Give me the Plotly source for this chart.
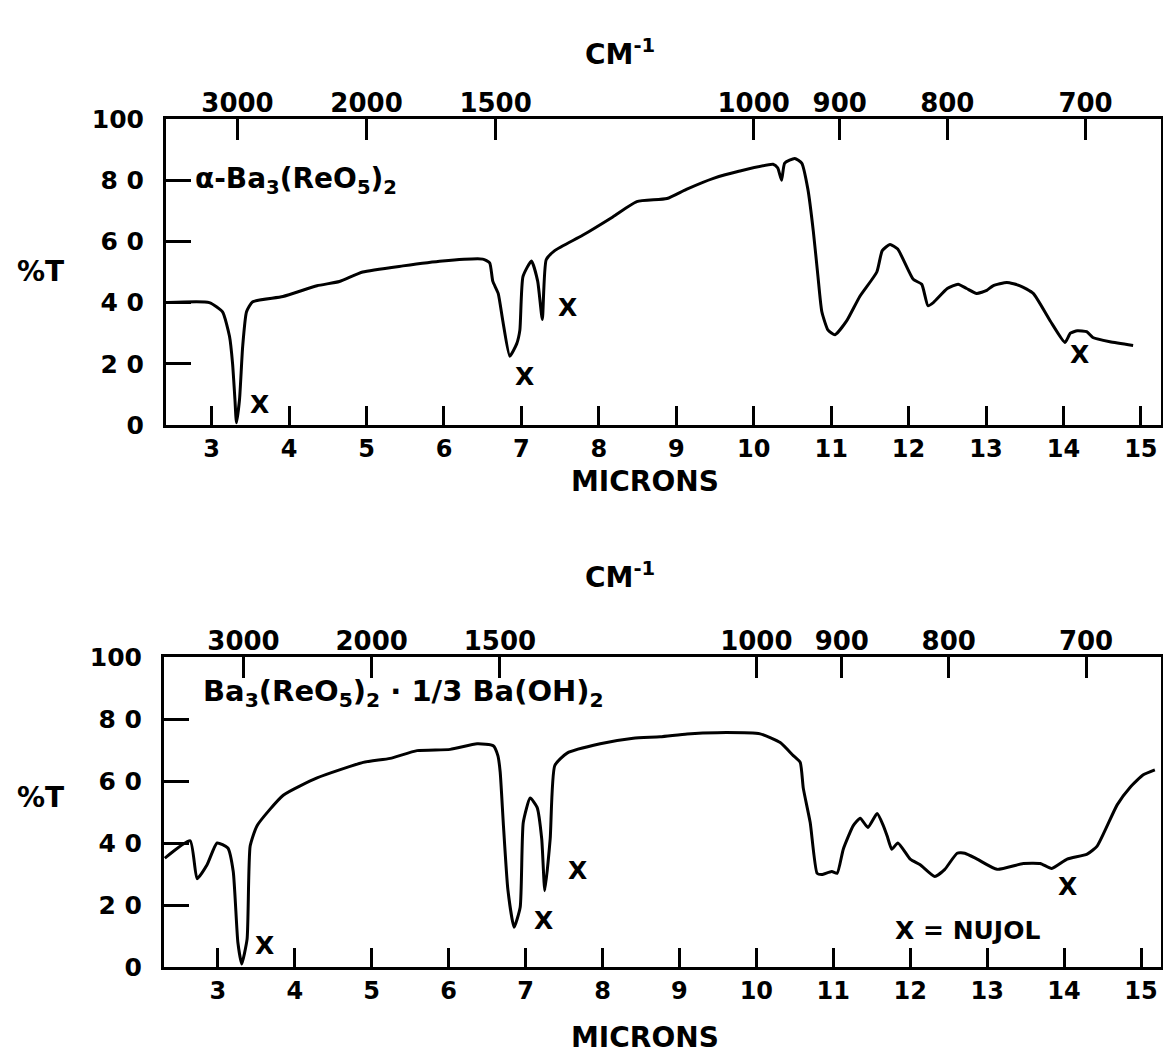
import plotly.graph_objects as go

# ---------------- data ----------------
# Top spectrum: alpha-Ba3(ReO5)2  (microns, %T)
top_um = [2.43, 2.97, 3.14, 3.23, 3.27, 3.30, 3.32, 3.36, 3.40, 3.45, 3.53, 3.92, 4.36, 4.65,
          4.95, 5.47, 5.98, 6.50, 6.59, 6.63, 6.70, 6.76, 6.85, 6.94, 6.98, 7.02, 7.13, 7.21,
          7.27, 7.32, 7.43, 7.79, 8.18, 8.49, 8.88, 9.13, 9.48, 9.82, 10.25, 10.31, 10.36,
          10.40, 10.53, 10.62, 10.70, 10.77, 10.83, 10.88, 10.96, 11.05, 11.20, 11.37, 11.59,
          11.66, 11.76, 11.86, 12.06, 12.17, 12.25, 12.32, 12.50, 12.64, 12.75, 12.88, 13.01,
          13.09, 13.27, 13.44, 13.61, 13.83, 14.02, 14.09, 14.18, 14.30, 14.38, 14.60, 14.90]
top_T = [40.0, 40.0, 37.0, 29.0, 20.0, 8.5, 0.7, 8.5, 25.6, 37.0, 40.3, 42.0, 45.5, 46.9,
         50.0, 52.0, 53.6, 54.2, 53.0, 47.0, 43.0, 34.0, 22.5, 26.6, 31.0, 48.5, 53.6, 47.0,
         34.5, 54.0, 57.0, 62.0, 68.0, 73.0, 74.0, 77.0, 80.6, 83.0, 85.2, 84.0, 80.0,
         85.6, 87.1, 85.6, 77.0, 63.3, 48.5, 37.0, 31.0, 29.5, 34.0, 42.0, 50.0,
         57.0, 59.0, 57.5, 47.6, 46.0, 39.0, 40.0, 44.6, 46.0, 44.6, 43.0, 44.0,
         45.5, 46.6, 45.5, 43.0, 34.0, 27.0, 30.0, 30.8, 30.5, 28.6, 27.2, 26.0]

# Bottom spectrum: Ba3(ReO5)2 . 1/3 Ba(OH)2
bot_um = [2.31, 2.64, 2.73, 2.86, 2.99, 3.13, 3.20, 3.26, 3.31, 3.38, 3.42, 3.51, 3.85, 4.29,
          4.89, 5.24, 5.59, 6.02, 6.37, 6.58, 6.64, 6.67, 6.71, 6.77, 6.85, 6.93, 6.97, 7.06,
          7.15, 7.21, 7.25, 7.32, 7.38, 7.54, 7.97, 8.40, 8.75, 9.10, 9.49, 10.05, 10.31,
          10.48, 10.57, 10.61, 10.70, 10.79, 10.85, 10.98, 11.05, 11.13, 11.26, 11.35, 11.45,
          11.57, 11.65, 11.70, 11.76, 11.84, 12.00, 12.13, 12.32, 12.45, 12.61, 12.71, 12.87,
          13.13, 13.47, 13.69, 13.84, 14.04, 14.30, 14.43, 14.69, 14.86, 15.03, 15.18]
bot_T = [35.1, 40.7, 28.5, 33.0, 40.0, 38.4, 30.8, 8.0, 1.0, 9.0, 39.0, 45.6, 55.4, 61.0,
         66.0, 67.3, 69.8, 70.2, 72.0, 71.4, 68.2, 62.9, 46.6, 25.0, 12.8, 19.3, 46.6, 54.5,
         51.5, 41.3, 24.6, 41.3, 65.0, 69.0, 72.0, 73.8, 74.3, 75.2, 75.6, 75.2, 72.4,
         68.2, 66.0, 57.7, 46.6, 30.2, 29.8, 30.8, 30.2, 38.0, 45.6, 48.0, 45.0,
         49.5, 45.6, 42.3, 38.0, 40.0, 34.8, 33.0, 29.2, 31.5, 36.7, 36.7, 34.8,
         31.5, 33.4, 33.4, 31.8, 34.8, 36.4, 39.0, 52.3, 58.0, 62.0, 63.6]

micron_ticks = [3, 4, 5, 6, 7, 8, 9, 10, 11, 12, 13, 14, 15]
micron_labels = ["3", "4", "5", "6", "7", "8", "9", "10", "11", "12", "13", "14", "15"]
wavenumbers = [3000, 2000, 1500, 1000, 900, 800, 700]
wavenumber_labels = ["3000", "2000", "1500", "1000", "900", "800", "700"]
y_ticks = [0, 20, 40, 60, 80, 100]
y_labels = ["0", "2 0", "4 0", "6 0", "8 0", "100"]

# nujol marks (microns, %T)
top_x_marks_um = [3.62, 7.04, 7.60, 14.21]
top_x_marks_T = [6.8, 15.9, 38.3, 23.0]
bot_x_marks_um = [3.61, 7.23, 7.67, 14.05]
bot_x_marks_T = [7.0, 15.0, 31.0, 26.0]

# ---------------- figure ----------------
W, H = 1163, 1059
FONT = "DejaVu Sans"
BLACK = "#000000"


def px(xp):
    return xp / W


def py(yp):
    return 1 - yp / H


fig = go.Figure()
fig.add_trace(go.Scatter(x=top_um, y=top_T, mode="lines", xaxis="x", yaxis="y",
                         line=dict(color=BLACK, width=3, shape="spline", smoothing=0.5),
                         showlegend=False, hoverinfo="skip"))
fig.add_trace(go.Scatter(x=bot_um, y=bot_T, mode="lines", xaxis="x3", yaxis="y2",
                         line=dict(color=BLACK, width=3, shape="spline", smoothing=0.5),
                         showlegend=False, hoverinfo="skip"))
# invisible traces so the wavenumber (top) axes are drawn
fig.add_trace(go.Scatter(x=[3, 14], y=[50, 50], mode="lines", xaxis="x2", yaxis="y",
                         line=dict(width=0), opacity=0, showlegend=False, hoverinfo="skip"))
fig.add_trace(go.Scatter(x=[3, 14], y=[50, 50], mode="lines", xaxis="x4", yaxis="y2",
                         line=dict(width=0), opacity=0, showlegend=False, hoverinfo="skip"))

top_dom_x = [px(166), px(1161)]
top_dom_y = [py(425), py(119)]
bot_dom_x = [px(164), px(1161)]
bot_dom_y = [py(967), py(657)]
top_range = [2.41, 15.26]
bot_range = [2.30, 15.26]

micron_font = dict(family=FONT, size=24, color=BLACK, weight="bold")
wn_font = dict(family=FONT, size=26, color=BLACK, weight="bold")
t_font = dict(family=FONT, size=25, color=BLACK, weight="bold")
wn_vals = [10000.0 / w for w in wavenumbers]


def micron_axis(domain, rng, anchor):
    return dict(domain=domain, range=rng, anchor=anchor, showgrid=False, zeroline=False,
                showline=True, linecolor=BLACK, linewidth=3, mirror=True,
                ticks="inside", ticklen=19, tickwidth=3, tickcolor=BLACK,
                tickvals=micron_ticks, ticktext=micron_labels, tickfont=micron_font,
                ticklabelstandoff=0, fixedrange=True, automargin=False)


def wn_axis(over, rng, anchor):
    return dict(overlaying=over, side="top", range=rng, anchor=anchor, showgrid=False,
                zeroline=False, showline=False, ticks="inside", ticklen=21, tickwidth=3,
                tickcolor=BLACK, tickvals=wn_vals, ticktext=wavenumber_labels,
                tickfont=wn_font, ticklabelstandoff=1, fixedrange=True, automargin=False)


def t_axis(domain, anchor):
    return dict(domain=domain, range=[0, 100], anchor=anchor, showgrid=False, zeroline=False,
                showline=True, linecolor=BLACK, linewidth=3, mirror=True,
                ticks="inside", ticklen=25, tickwidth=3, tickcolor=BLACK,
                tickvals=y_ticks, ticktext=y_labels, tickfont=t_font,
                ticklabelstandoff=14, fixedrange=True, automargin=False)


fig.update_layout(
    width=W, height=H, margin=dict(l=0, r=0, t=0, b=0, pad=0, autoexpand=False),
    paper_bgcolor="white", plot_bgcolor="white", showlegend=False,
    xaxis=micron_axis(top_dom_x, top_range, "y"),
    xaxis2=wn_axis("x", top_range, "y"),
    xaxis3=micron_axis(bot_dom_x, bot_range, "y2"),
    xaxis4=wn_axis("x3", bot_range, "y2"),
    yaxis=t_axis(top_dom_y, "x"),
    yaxis2=t_axis(bot_dom_y, "x3"),
)

ann = []
labfont = dict(family=FONT, size=28, color=BLACK, weight="bold")
for yc_cm, yc_mic, yc_t in [(52, 482, 271), (575, 1037, 797)]:
    ann.append(dict(text="CM<sup>-1</sup>", x=px(620), y=py(yc_cm), xref="paper", yref="paper",
                    showarrow=False, font=labfont, xanchor="center", yanchor="middle"))
    ann.append(dict(text="MICRONS", x=px(645), y=py(yc_mic), xref="paper", yref="paper",
                    showarrow=False, font=labfont, xanchor="center", yanchor="middle"))
    ann.append(dict(text="%T", x=px(40), y=py(yc_t), xref="paper", yref="paper",
                    showarrow=False, font=labfont, xanchor="center", yanchor="middle"))

xfont = dict(family=FONT, size=25, color=BLACK, weight="bold")
for xm, tm in zip(top_x_marks_um, top_x_marks_T):
    ann.append(dict(text="X", x=xm, y=tm, xref="x", yref="y", showarrow=False, font=xfont))
for xm, tm in zip(bot_x_marks_um, bot_x_marks_T):
    ann.append(dict(text="X", x=xm, y=tm, xref="x3", yref="y2", showarrow=False, font=xfont))
ann.append(dict(text="X = NUJOL", x=12.75, y=11.7, xref="x3", yref="y2", showarrow=False,
                font=dict(family=FONT, size=25, color=BLACK, weight="bold")))

ann.append(dict(text="α-Ba<sub>3</sub>(ReO<sub>5</sub>)<sub>2</sub>", x=2.76, y=80,
                xref="x", yref="y", xanchor="left", yanchor="middle", showarrow=False,
                font=dict(family=FONT, size=28, color=BLACK, weight="bold")))
ann.append(dict(text="Ba<sub>3</sub>(ReO<sub>5</sub>)<sub>2</sub> · 1/3 Ba(OH)<sub>2</sub>",
                x=2.78, y=88.5, xref="x3", yref="y2", xanchor="left", yanchor="middle",
                showarrow=False, font=dict(family=FONT, size=29, color=BLACK, weight="bold")))

fig.update_layout(annotations=ann)
fig.write_html("out.html")
